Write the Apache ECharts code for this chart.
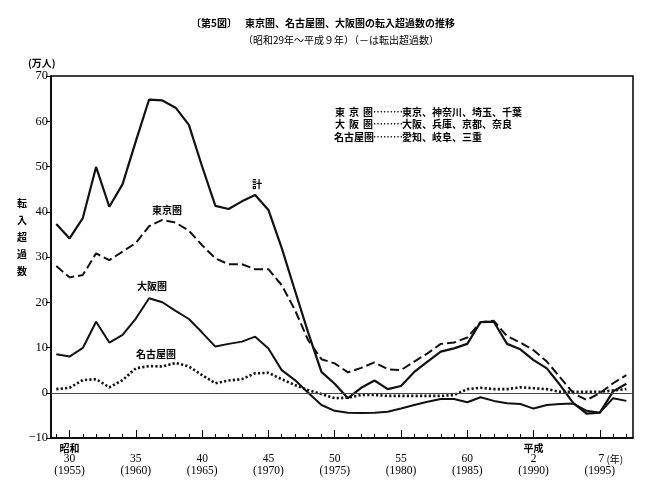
<!DOCTYPE html>
<html>
<head>
<meta charset="utf-8">
<script src="https://cdn.jsdelivr.net/npm/echarts@6/dist/echarts.min.js"></script>
<style>
html,body{margin:0;padding:0;background:#fff;}
#c{width:653px;height:493px;}
</style>
</head>
<body>
<div id="c"></div>
<script>
// ---- data ----
var years = [1954,1955,1956,1957,1958,1959,1960,1961,1962,1963,1964,1965,1966,1967,1968,1969,1970,1971,1972,1973,1974,1975,1976,1977,1978,1979,1980,1981,1982,1983,1984,1985,1986,1987,1988,1989,1990,1991,1992,1993,1994,1995,1996,1997];
var total  = [37.3,34.1,38.6,49.9,41.1,46.1,55.6,64.8,64.6,63.0,59.2,50.0,41.3,40.6,42.3,43.7,40.4,32.0,22.6,13.3,4.6,2.0,-1.2,1.1,2.7,0.8,1.5,4.6,6.9,9.1,9.8,10.8,15.6,15.7,10.8,9.6,7.2,5.4,1.7,-2.3,-4.6,-4.4,0.3,2.0];
var tokyo  = [28.0,25.5,26.0,30.8,29.3,31.2,33.1,36.8,38.2,37.6,35.8,32.6,29.7,28.4,28.4,27.3,27.3,23.8,18.3,11.6,7.4,6.5,4.5,5.5,6.7,5.2,5.0,6.9,8.7,10.8,11.1,12.2,15.6,15.9,12.5,11.1,9.4,6.9,3.4,-0.1,-1.6,-0.1,2.1,3.9];
var osaka  = [8.5,8.0,9.9,15.7,11.1,12.8,16.4,20.9,20.0,18.1,16.3,13.3,10.2,10.8,11.3,12.4,9.8,5.0,2.8,0.0,-2.7,-4.0,-4.4,-4.5,-4.4,-4.2,-3.5,-2.7,-2.0,-1.4,-1.4,-2.1,-1.0,-1.8,-2.3,-2.5,-3.5,-2.7,-2.5,-2.4,-4.0,-4.4,-1.2,-1.8];
var nagoya = [0.8,1.1,2.8,3.0,1.2,2.8,5.4,5.9,5.8,6.6,5.8,3.9,2.1,2.7,3.0,4.3,4.4,3.0,1.7,0.6,-0.3,-1.2,-1.1,-0.5,-0.5,-0.7,-0.7,-0.7,-0.7,-0.7,-0.5,0.8,1.1,0.8,0.8,1.2,1.0,0.8,0.2,0.2,0.2,0.2,0.5,0.8];

var tickYears = [1955,1960,1965,1970,1975,1980,1985,1990,1995];
var eraNames  = ['昭和','','','','','','','平成',''];
var eraYears  = ['30','35','40','45','50','55','60','2','7'];

var titleMain = '東京圏、名古屋圏、大阪圏の転入超過数の推移';
var titleNo = '〔第5図〕';
var subTitle = '（昭和29年～平成９年）（－は転出超過数）';
var legendNames = [['東','京','圏'],['大','阪','圏'],['名','古','屋','圏']];
var legendMembers = ['東京、神奈川、埼玉、千葉','大阪、兵庫、京都、奈良','愛知、岐阜、三重'];
var yNameV = ['転','入','超','過','数'];

function pairs(arr){ return years.map(function(y,i){ return [y, arr[i]]; }); }

var CJK = '"Noto Sans CJK JP", "Noto Sans CJK SC", sans-serif';
var SERIF = '"Liberation Serif", "DejaVu Serif", "Noto Sans CJK JP", serif';

var chart = echarts.init(document.getElementById('c'));

var graphics = [];
graphics.push({type:'text', left:191, top:18, style:{text:titleNo, font:'bold 10px ' + CJK, fill:'#000'}});
graphics.push({type:'text', left:245, top:18, style:{text:titleMain, font:'bold 10px ' + CJK, fill:'#000'}});
graphics.push({type:'text', left:243, top:35, style:{text:subTitle, font:'10px ' + CJK, fill:'#000'}});
graphics.push({type:'text', left:28, top:58, style:{text:'(万人)', font:'bold 10px ' + CJK, fill:'#000'}});
yNameV.forEach(function(ch,i){
  graphics.push({type:'text', left:17, top:198 + i*17, style:{text:ch, font:'bold 10px ' + CJK, fill:'#000'}});
});
var legTops = [107, 119.5, 132];
legendNames.forEach(function(chars,i){
  if (chars.length === 3) {
    chars.forEach(function(ch,j){
      graphics.push({type:'text', left:335 + j*14, top:legTops[i], style:{text:ch, font:'bold 10px ' + CJK, fill:'#000'}});
    });
  } else {
    graphics.push({type:'text', left:334, top:legTops[i], style:{text:chars.join(''), font:'bold 10px ' + CJK, fill:'#000'}});
  }
  graphics.push({type:'text', left:373, top:legTops[i], style:{text:'………', font:'bold 10px ' + CJK, fill:'#000'}});
  graphics.push({type:'text', left:402, top:legTops[i], style:{text:legendMembers[i], font:'bold 10px ' + CJK, fill:'#000'}});
});
// series name labels
graphics.push({type:'text', left:252, top:179, style:{text:'計', font:'bold 10px ' + CJK, fill:'#000'}});
graphics.push({type:'text', left:152, top:205, style:{text:'東京圏', font:'bold 10px ' + CJK, fill:'#000'}});
graphics.push({type:'text', left:137, top:281, style:{text:'大阪圏', font:'bold 10px ' + CJK, fill:'#000'}});
graphics.push({type:'text', left:136, top:349, style:{text:'名古屋圏', font:'bold 10px ' + CJK, fill:'#000'}});

var xMin = 1953.6, xMax = 1997.5;

var option = {
  backgroundColor:'#fff',
  animation:false,
  grid:{left:51, right:20, top:76, bottom:55, show:true, borderColor:'#000', borderWidth:1.5, backgroundColor:'transparent', containLabel:false, outerBoundsMode:'none'},
  xAxis:[
    {type:'value', min:xMin, max:xMax, position:'bottom', offset:0,
     axisLine:{show:true, onZero:false, lineStyle:{color:'#000', width:1.5}},
     axisTick:{show:true, inside:true, length:4, customValues:years, lineStyle:{color:'#000', width:1}},
     axisLabel:{show:false}, splitLine:{show:false}},
    {type:'value', min:xMin, max:xMax, position:'bottom', offset:0, gridIndex:0,
     axisLine:{show:false, onZero:false},
     axisTick:{show:true, inside:true, length:8, customValues:tickYears, lineStyle:{color:'#000', width:1}},
     axisLabel:{show:true, customValues:tickYears, margin:4, color:'#000',
       formatter:function(v){
         var i = tickYears.indexOf(Math.round(v));
         if (i < 0) return '';
         var era = eraNames[i] ? '{e|' + eraNames[i] + '}' : '{e| }';
         var mid = (v === 1995) ? '{p|' + eraYears[i] + '}{y| (年)}' : '{n|' + eraYears[i] + '}';
         return era + '\n' + mid + '\n{n|(' + Math.round(v) + ')}';
       },
       rich:{
         e:{fontFamily:CJK, fontWeight:'bold', fontSize:10, lineHeight:11.5, color:'#000'},
         n:{fontFamily:SERIF, fontSize:11.5, lineHeight:11.5, color:'#000'},
         p:{fontFamily:SERIF, fontSize:11.5, lineHeight:11.5, color:'#000', padding:[0,0,0,22]},
         y:{fontFamily:CJK, fontSize:10, lineHeight:11.5, color:'#000'}
       }},
     splitLine:{show:false}}
  ],
  yAxis:{type:'value', min:-10, max:70, interval:10,
    axisLine:{show:true, onZero:false, lineStyle:{color:'#000', width:1.5}},
    axisTick:{show:true, inside:false, length:5, lineStyle:{color:'#000', width:1}},
    axisLabel:{fontFamily:SERIF, fontSize:12.5, color:'#000', margin:3,
      formatter:function(v){ return v < 0 ? '−' + Math.abs(v) : String(v); }},
    splitLine:{show:false}},
  series:[
    {name:'計', type:'line', data:pairs(total), symbol:'none', xAxisIndex:0,
     lineStyle:{color:'#111', width:2.2, type:'solid'},
     markLine:{silent:true, symbol:'none', label:{show:false}, lineStyle:{color:'#444', width:1.2, type:'solid'}, data:[{yAxis:0}]}},
    {name:'東京圏', type:'line', data:pairs(tokyo), symbol:'none', xAxisIndex:0,
     lineStyle:{color:'#111', width:2, type:[9,4]}},
    {name:'大阪圏', type:'line', data:pairs(osaka), symbol:'none', xAxisIndex:0,
     lineStyle:{color:'#111', width:2, type:'solid'}},
    {name:'名古屋圏', type:'line', data:pairs(nagoya), symbol:'none', xAxisIndex:0,
     lineStyle:{color:'#111', width:2.6, type:[2.2,2.2]}}
  ],
  graphic:graphics
};
chart.setOption(option);
</script>
</body>
</html>
